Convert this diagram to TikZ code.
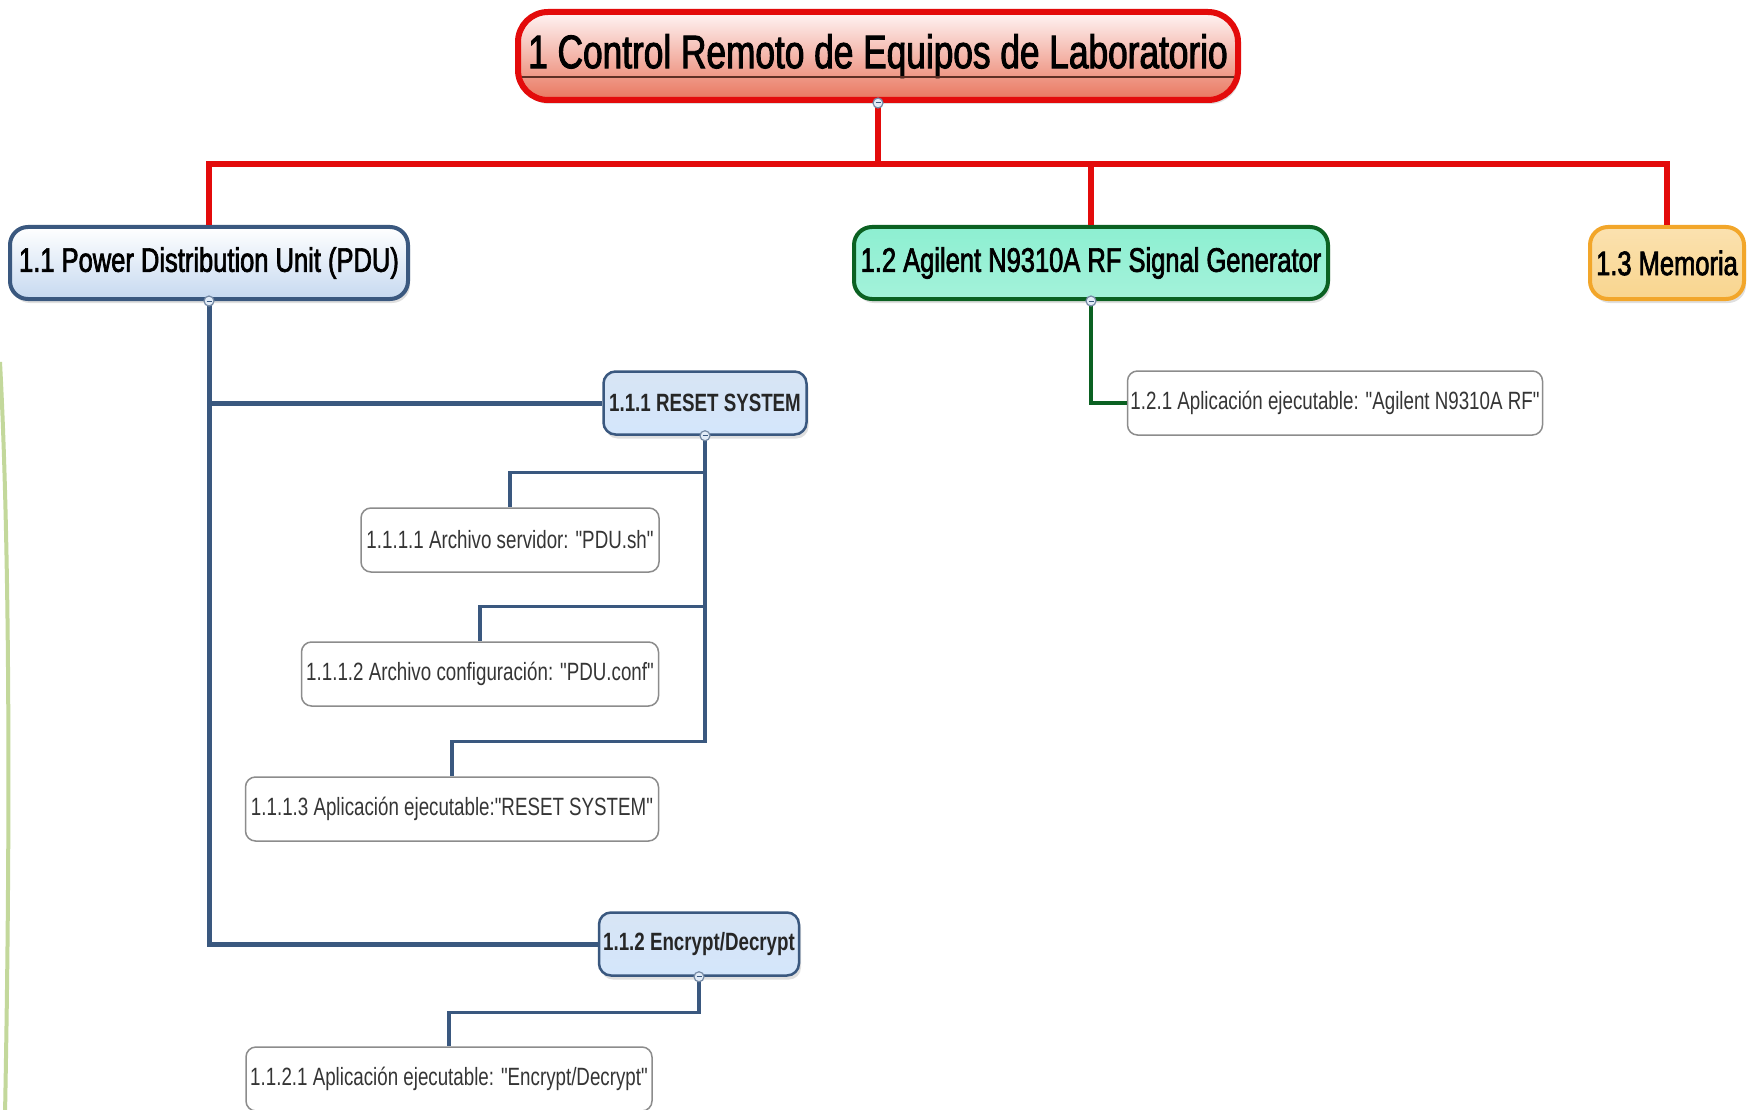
\documentclass[tikz,border=0pt]{standalone}
\usepackage{fontspec}
\setmainfont{Liberation Sans}[FakeStretch=0.75, Ligatures=TeXOff]
\newfontfamily\headfont{Liberation Sans}[FakeStretch=0.75, FakeBold=2]
\usetikzlibrary{shadows}
\definecolor{rootred}{HTML}{E30B0B}
\definecolor{salmon}{HTML}{E9765E}
\definecolor{pdublue}{HTML}{3A587F}
\definecolor{paleblue}{HTML}{C6D9F0}
\definecolor{rfgreen}{HTML}{0B6122}
\definecolor{mint}{HTML}{8DEFD1}
\definecolor{memorange}{HTML}{F2A62A}
\definecolor{memfill}{HTML}{F9D58E}
\definecolor{leafgray}{HTML}{8C8C8C}
\definecolor{leaftext}{HTML}{353535}
\definecolor{slidegreen}{HTML}{C3D89B}
\tikzset{
  every node/.style={inner sep=0pt, align=center},
  boxshadow/.style={drop shadow={shadow xshift=2pt, shadow yshift=-4pt, opacity=0.25}},
  rootbox/.style={boxshadow, draw=rootred, line width=6pt, rounded corners=30pt,
    top color=white!96!red, middle color=salmon!55, bottom color=salmon,
    minimum width=720pt, minimum height=88pt, font=\headfont\fontsize{47}{50}\selectfont},
  topicbox/.style={boxshadow, line width=4pt, rounded corners=18pt,
    minimum height=72pt, font=\headfont\fontsize{34}{38}\selectfont},
  subbox/.style={boxshadow, draw=pdublue, line width=2.5pt, rounded corners=12pt,
    top color=paleblue!70, bottom color=paleblue!110!pdublue, text=black!85,
    minimum height=63pt, font=\fontsize{25}{28}\selectfont\bfseries},
  leafbox/.style={draw=leafgray, line width=1.5pt, fill=white, rounded corners=10pt,
    minimum height=64pt, text=leaftext, font=\fontsize{25}{28}\selectfont},
  redwire/.style={draw=rootred, line width=6pt},
  bluewire/.style={draw=pdublue, line width=5pt},
  twigwire/.style={draw=pdublue, line width=3.5pt},
  greenwire/.style={draw=rfgreen, line width=4.5pt},
  knob/.style={draw=pdublue!70, line width=1.2pt, fill=paleblue!50},
}
\begin{document}
\begin{tikzpicture}[x=1pt,y=-1pt]
  \clip (0,0) rectangle (1748,1110);
  \fill[white] (0,0) rectangle (1748,1110);
  \draw[slidegreen, line width=4pt] (0,362) .. controls (9,530) and (11,800) .. (5,1115);
  \draw
    (878,56) node[rootbox] (root){1 Control Remoto de Equipos de Laboratorio}
    (209,263) node[topicbox, draw=pdublue, top color=white, bottom color=paleblue, minimum width=398pt] (pdu){1.1 Power Distribution Unit (PDU)}
    (1091,263) node[topicbox, draw=rfgreen, top color=mint, middle color=mint!25, bottom color=mint!80, minimum width=474pt] (agilent){1.2 Agilent N9310A RF Signal Generator}
    (1667,263) node[topicbox, draw=memorange, top color=memfill!70, middle color=memfill!40, bottom color=memfill, minimum width=154pt] (memoria){1.3 Memoria}
    (705,403) node[subbox, minimum width=203pt] (reset){1.1.1 RESET SYSTEM}
    (699,944) node[subbox, minimum width=200pt] (encrypt){1.1.2 Encrypt/Decrypt}
    (510,540) node[leafbox, minimum width=298pt] (pdush){1.1.1.1 Archivo servidor: "PDU.sh"}
    (480,674) node[leafbox, minimum width=357pt] (pduconf){1.1.1.2 Archivo configuración: "PDU.conf"}
    (452,809) node[leafbox, minimum width=413pt] (resetapp){1.1.1.3 Aplicación ejecutable:"RESET SYSTEM"}
    (449,1079) node[leafbox, minimum width=406pt] (cryptapp){1.1.2.1 Aplicación ejecutable: "Encrypt/Decrypt"}
    (1335,403) node[leafbox, minimum width=415pt] (rfapp){1.2.1 Aplicación ejecutable: "Agilent N9310A RF"};
  \coordinate (ul) at (0,77);
  \draw[salmon!40!black, line width=1.2pt, shorten <=7pt, shorten >=7pt] (root.west |- ul) -- (root.east |- ul);
  \begin{scope}[redwire]
    \draw (root.south) -- ++(0,61) coordinate (hub);
    \draw (hub) -| (pdu.north);
    \draw (hub) -| (agilent.north);
    \draw (hub) -| (memoria.north);
  \end{scope}
  \begin{scope}[bluewire]
    \draw (pdu.south) |- (reset.west);
    \draw (pdu.south) |- (encrypt.west);
  \end{scope}
  \begin{scope}[twigwire]
    \draw (reset.south) |- ([yshift=35pt]pdush.north) -- (pdush.north);
    \draw (reset.south) |- ([yshift=35pt]pduconf.north) -- (pduconf.north);
    \draw (reset.south) |- ([yshift=35pt]resetapp.north) -- (resetapp.north);
    \draw (encrypt.south) |- ([yshift=34pt]cryptapp.north) -- (cryptapp.north);
  \end{scope}
  \draw[greenwire] (agilent.south) |- (rfapp.west);
  \foreach \n in {root,pdu,agilent,reset,encrypt}{
    \draw[knob] (\n.south) circle (5);
    \draw[pdublue, line width=1pt] (\n.south) +(-2.5,0) -- +(2.5,0);
  }
\end{tikzpicture}
\end{document}
